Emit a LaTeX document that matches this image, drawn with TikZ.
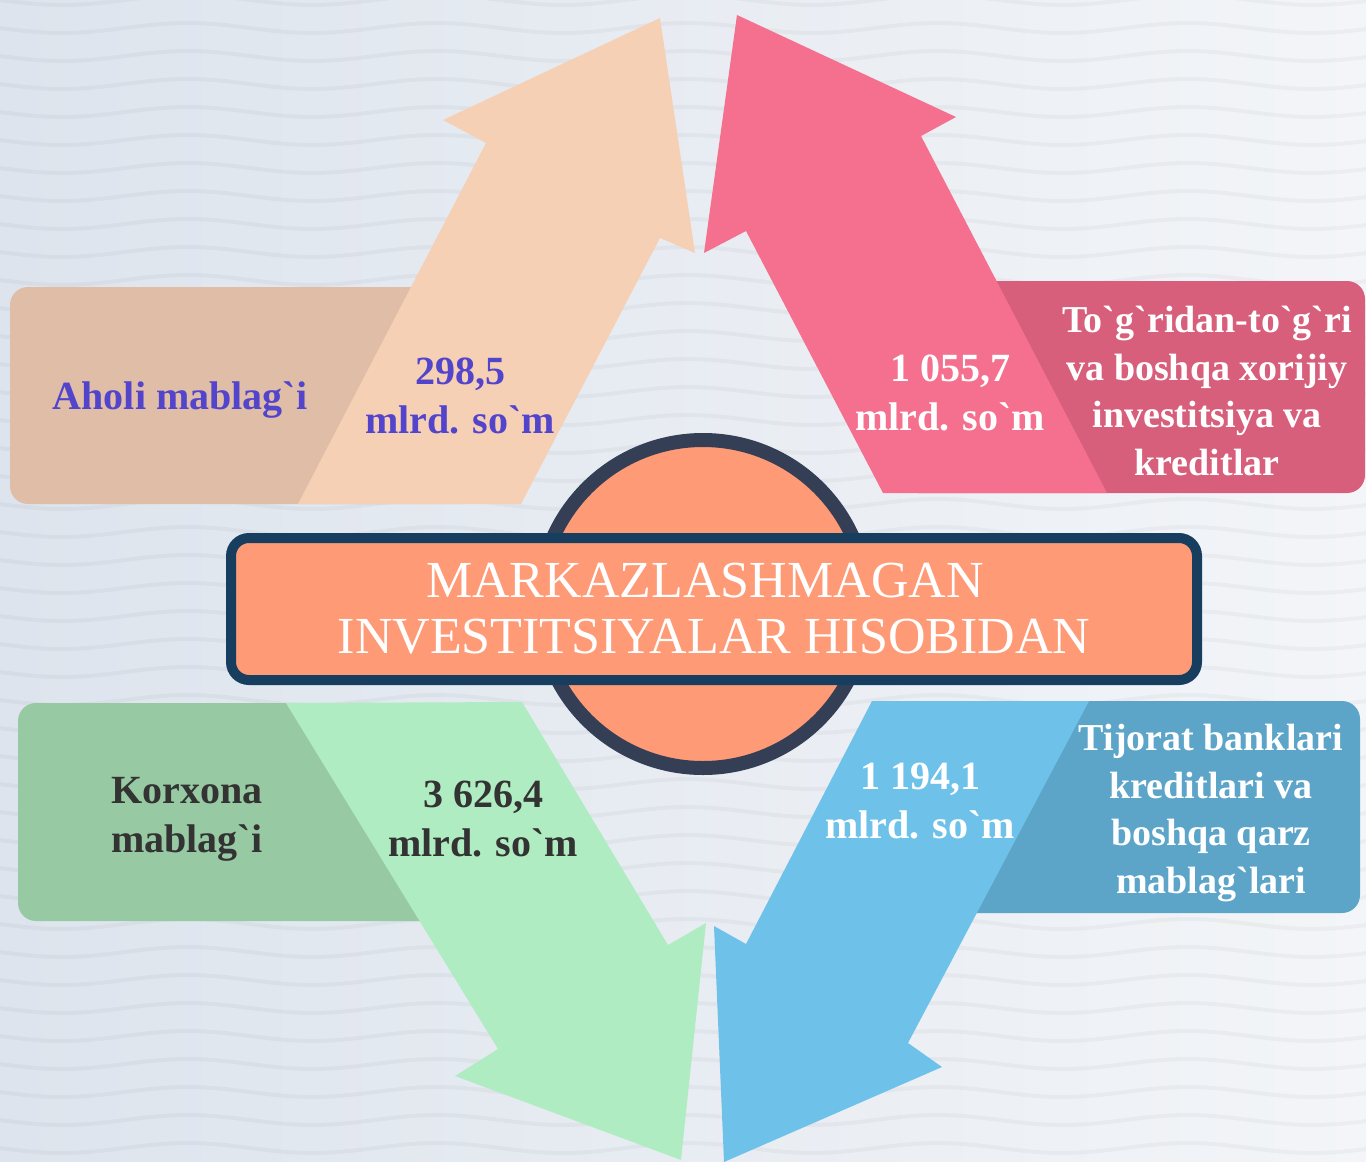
\documentclass[tikz,border=0pt]{standalone}
\usepackage{fontspec}
\setmainfont{Liberation Serif}
\definecolor{bgL}{RGB}{221,228,237}
\definecolor{bgR}{RGB}{243,245,248}
\definecolor{peachA}{RGB}{246,208,181}
\definecolor{peachB}{RGB}{224,189,167}
\definecolor{pinkA}{RGB}{244,112,142}
\definecolor{pinkB}{RGB}{215,95,123}
\definecolor{greenA}{RGB}{176,236,194}
\definecolor{greenB}{RGB}{151,201,163}
\definecolor{blueA}{RGB}{110,194,234}
\definecolor{blueB}{RGB}{92,165,200}
\definecolor{coral}{RGB}{255,154,118}
\definecolor{ringc}{RGB}{52,63,86}
\definecolor{rectc}{RGB}{23,62,95}
\definecolor{violet}{RGB}{83,68,204}
\definecolor{darktx}{RGB}{51,51,51}
\newcommand{\qg}{\textasciigrave{}}
\begin{document}
\begin{tikzpicture}[x=1pt,y=-1pt,
  wave/.style={line width=4pt,black,opacity=0.03},
  box/.style={rounded corners=18pt},
  lbl/.style={font=\fontsize{40}{49}\selectfont\bfseries,align=center,inner sep=0pt,anchor=base},
  lblfour/.style={font=\fontsize{38}{47.5}\selectfont\bfseries,align=center,inner sep=0pt,anchor=base},
  titlebox/.style={draw=rectc,fill=coral,line width=10pt,rounded corners=18pt,minimum width=966pt,minimum height=142pt,inner sep=0pt},
  ringnode/.style={circle,draw=ringc,fill=coral,line width=14pt,minimum size=328pt,inner sep=0pt}]
\useasboundingbox (0,0) rectangle (1366,1162);
\shade[left color=bgL,right color=bgR] (0,0) rectangle (1366,1162);
\begin{scope}
\clip (0,0) rectangle (1366,1162);
\foreach \k in {-1,...,42}
  \draw[wave] plot[domain=-10:1380,samples=70,smooth] (\x,{\k*28+5*sin(1.44*\x)});
\end{scope}
% side boxes
\fill[peachB,box] (10,287) rectangle (480,504);
\fill[pinkB,box] (900,281) rectangle (1365,493);
\fill[greenB,box] (18,703) rectangle (450,921);
\fill[blueB,box] (900,701) rectangle (1360,913);
% arrows
\fill[peachA] (298,504) -- (486,143) -- (443,120) -- (660,18) -- (695,253) -- (660,238) -- (521,504) -- cycle;
\fill[pinkA] (883,493) -- (746,231) -- (704,253) -- (737,15) -- (956,117) -- (921,136) -- (1107,493) -- cycle;
\fill[greenA] (286,703) -- (522,702) -- (668,945) -- (706,923) -- (681,1160) -- (455,1076) -- (498,1049) -- cycle;
\fill[blueA] (872,701) -- (1089,701) -- (908,1043) -- (942,1067) -- (724,1162) -- (714,926) -- (746,944) -- cycle;
% centre
\node[ringnode] (ring) at (703,604) {};
\node[titlebox,text=white,font=\fontsize{52}{56}\selectfont,align=center] (title) at (714,609) {\hspace*{-18pt}MARKAZLASHMAGAN\\INVESTITSIYALAR HISOBIDAN};
% labels
\node[lbl,text=violet] (aholi) at (180,409) {Aholi mablag\qg i};
\node[lbl,text=violet] (v1) at (460,433) {298,5\\mlrd. so\qg m};
\node[lbl,text=white] (v2) at (950,430) {1 055,7\\mlrd. so\qg m};
\node[lblfour,text=white] (tog) at (1207,475) {To\qg g\qg ridan-to\qg g\qg ri\\va boshqa xorijiy\\investitsiya va\\kreditlar};
\node[lbl,text=darktx,align=left,anchor=base west] (korx) at (111,852) {Korxona\\mablag\qg i};
\node[lbl,text=darktx] (v3) at (483,856) {3 626,4\\mlrd. so\qg m};
\node[lbl,text=white] (v4) at (920,838) {1 194,1\\mlrd. so\qg m};
\node[lblfour,text=white] (tij) at (1211,893) {Tijorat banklari\\kreditlari va\\boshqa qarz\\mablag\qg lari};
\end{tikzpicture}
\end{document}
